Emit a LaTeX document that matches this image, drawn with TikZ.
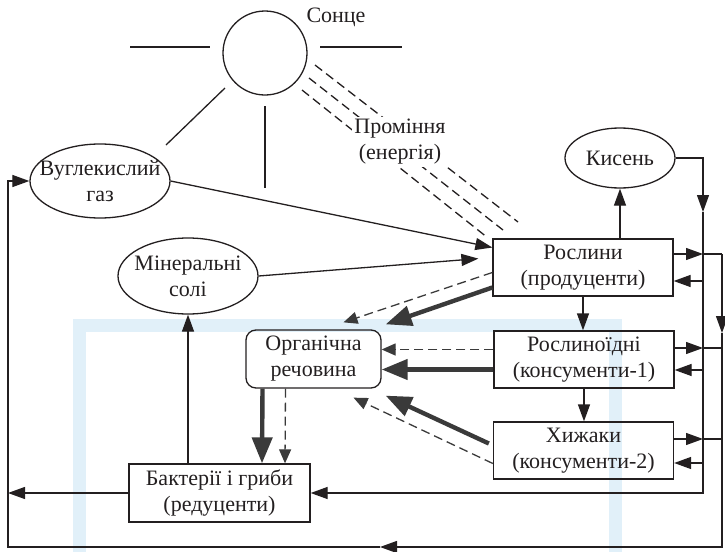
\documentclass[tikz,border=0pt]{standalone}
\usepackage{fontspec}
\setmainfont{Liberation Serif}
\usetikzlibrary{arrows.meta,shapes.geometric,calc}
\definecolor{ink}{HTML}{231F20}
\definecolor{heavy}{HTML}{3A3A3A}
\definecolor{wmark}{HTML}{E1F0F9}

\begin{document}
\begin{tikzpicture}
  [x=0.5pt, y=-0.5pt,
   every node/.style={font=\fontsize{11}{13}\selectfont, text=ink, align=center},
   wire/.style={draw=ink, line width=0.65pt},
   flow/.style={wire, -{Triangle[length=8.5pt,width=6pt]}},
   heavyflow/.style={draw=heavy, line width=2.2pt, -{Triangle[length=13pt,width=10pt]}},
   dashflow/.style={draw=heavy, line width=0.65pt, dash pattern=on 4.5pt off 2.5pt, -{Triangle[length=7pt,width=6pt]}},
   oval/.style={ellipse, draw=ink, line width=0.65pt, inner sep=0pt},
   box/.style={rectangle, draw=ink, line width=0.65pt, minimum width=90pt, minimum height=28.5pt, inner sep=0pt}]
  \useasboundingbox (0,0) rectangle (725,552);
  % watermark frame
  \draw[draw=wmark, line width=6.5pt] (79.5,552) |- (615.5,325.5) -- (615.5,552);

  \node (sun) [circle, draw=ink, line width=0.65pt, minimum size=42pt, inner sep=0pt] at (265,53) {};
  \node (sunlbl) at (336,17) {Сонце};
  \node (co2) [oval, minimum width=70pt, minimum height=37pt, label={center:Вуглекислий\\газ}] at (100,181) {};
  \node (salt) [oval, minimum width=70pt, minimum height=38pt, label={center:Мінеральні\\солі}] at (188,276) {};
  \node (oxy) [oval, minimum width=55pt, minimum height=30pt, label={center:Кисень}] at (620,158) {};
  \node (plants) [box] at (583,267.5) {Рослини\\(продуценти)};
  \node (herb) [box] at (584,359.5) {Рослиноїдні\\(консументи-1)};
  \node (pred) [box] at (583.5,450.5) {Хижаки\\(консументи-2)};
  \node (org) [box, rounded corners=5pt, minimum width=67.5pt, minimum height=29pt] at (313.5,359) {Органічна\\речовина};
  \node (dec) [box, minimum width=90.5pt, minimum height=29pt] at (219.5,493) {Бактерії і гриби\\(редуценти)};

  % rays of the sun
  \draw[wire] (130,47) -- (210,47);
  \draw[wire] (320,47) -- (402,47);
  \draw[wire] (225,88) -- (166,145);
  \draw[wire] (265,106) -- (265,188);
  \draw[wire, dash pattern=on 4.5pt off 2.5pt] (315,65) -- (518,222);
  \draw[wire, dash pattern=on 4.5pt off 2.5pt] (309,78) -- (503,230);
  \draw[wire, dash pattern=on 4.5pt off 2.5pt] (302,90) -- (488,238);
  \node (rays) [fill=white, inner sep=1pt] at (400,142) {Проміння\\(енергія)};

  % bus lines on the right and round the picture
  \coordinate (a0) at (703,158);
  \coordinate (a1) at (703,212);
  \coordinate (a2) at (703,493);
  \coordinate (b0) at (722,254);
  \coordinate (b1) at (722,333);
  \coordinate (b2) at (722,547);
  \coordinate (c0) at (8,547);
  \coordinate (c1) at (380,547);
  \coordinate (p1) at ($(plants.east)+(0,-13.5)$);
  \coordinate (p2) at ($(plants.east)+(0,13.5)$);
  \coordinate (h1) at ($(herb.east)+(0,-11.5)$);
  \coordinate (h2) at ($(herb.east)+(0,10.5)$);
  \coordinate (k1) at ($(pred.east)+(0,-11.5)$);
  \coordinate (k2) at ($(pred.east)+(0,12.5)$);

  \draw[flow] (co2.east) -- ($(plants.west)+(0,-20)$);
  \draw[flow, shorten >=7pt] (salt.east) -- ($(plants.west)+(0,-10)$);
  \draw[dashflow] ($(plants.west)+(0,5)$) -- ($(org.north)+(30,-7)$);
  \draw[heavyflow] ($(plants.west)+(0,20)$) -- ($(org.north east)+(4,-5)$);
  \draw[flow] (plants.south) -- (plants.south |- herb.north);
  \draw[flow] (herb.south) -- (herb.south |- pred.north);
  \draw[dashflow] ($(herb.west)+(0,-10)$) -- ($(org.east)+(0,-9.5)$);
  \draw[heavyflow] ($(herb.west)+(0,10)$) -- ($(org.east)+(0,10.5)$);
  \draw[heavyflow] ($(pred.west)+(-4,-7)$) -- ($(org.south east)+(4,7)$);
  \draw[dashflow] ($(pred.west)+(0,13)$) -- ($(org.south)+(40,9)$);
  \draw[heavyflow] ($(org.south)+(-51,0)$) -- ($(dec.north)+(42.5,0)$);
  \draw[dashflow] ($(org.south)+(-28,0)$) -- ($(dec.north)+(65.5,0)$);
  \draw[flow] (dec.north -| salt.south) -- (salt.south);
  \draw[flow] (plants.north -| oxy.south) -- (oxy.south);

  \draw[flow] (oxy.east) -- (a0) -- (a1);
  \draw[flow] (a1) -- (a2) -- (dec.east);
  \draw[flow] (p1) -- (p1 -| a0);
  \draw[flow] (p2 -| a0) -- (p2);
  \draw[flow] (h1) -- (h1 -| a0);
  \draw[flow] (h2 -| a0) -- (h2);
  \draw[flow] (k1) -- (k1 -| a0);
  \draw[flow] (k2 -| a0) -- (k2);
  \draw[wire] (p1 -| a0) -- (b0);
  \draw[wire] (h1 -| a0) -- (h1 -| b0);
  \draw[wire] (k1 -| a0) -- (k1 -| b0);
  \draw[flow] (b0) -- (b1);
  \draw[flow] (b1) -- (b2) -- (c1);
  \draw[flow] (c1) -- (c0) |- (co2.west);
  \draw[flow] (dec.west) -- (dec.west -| c0);
\end{tikzpicture}
\end{document}
